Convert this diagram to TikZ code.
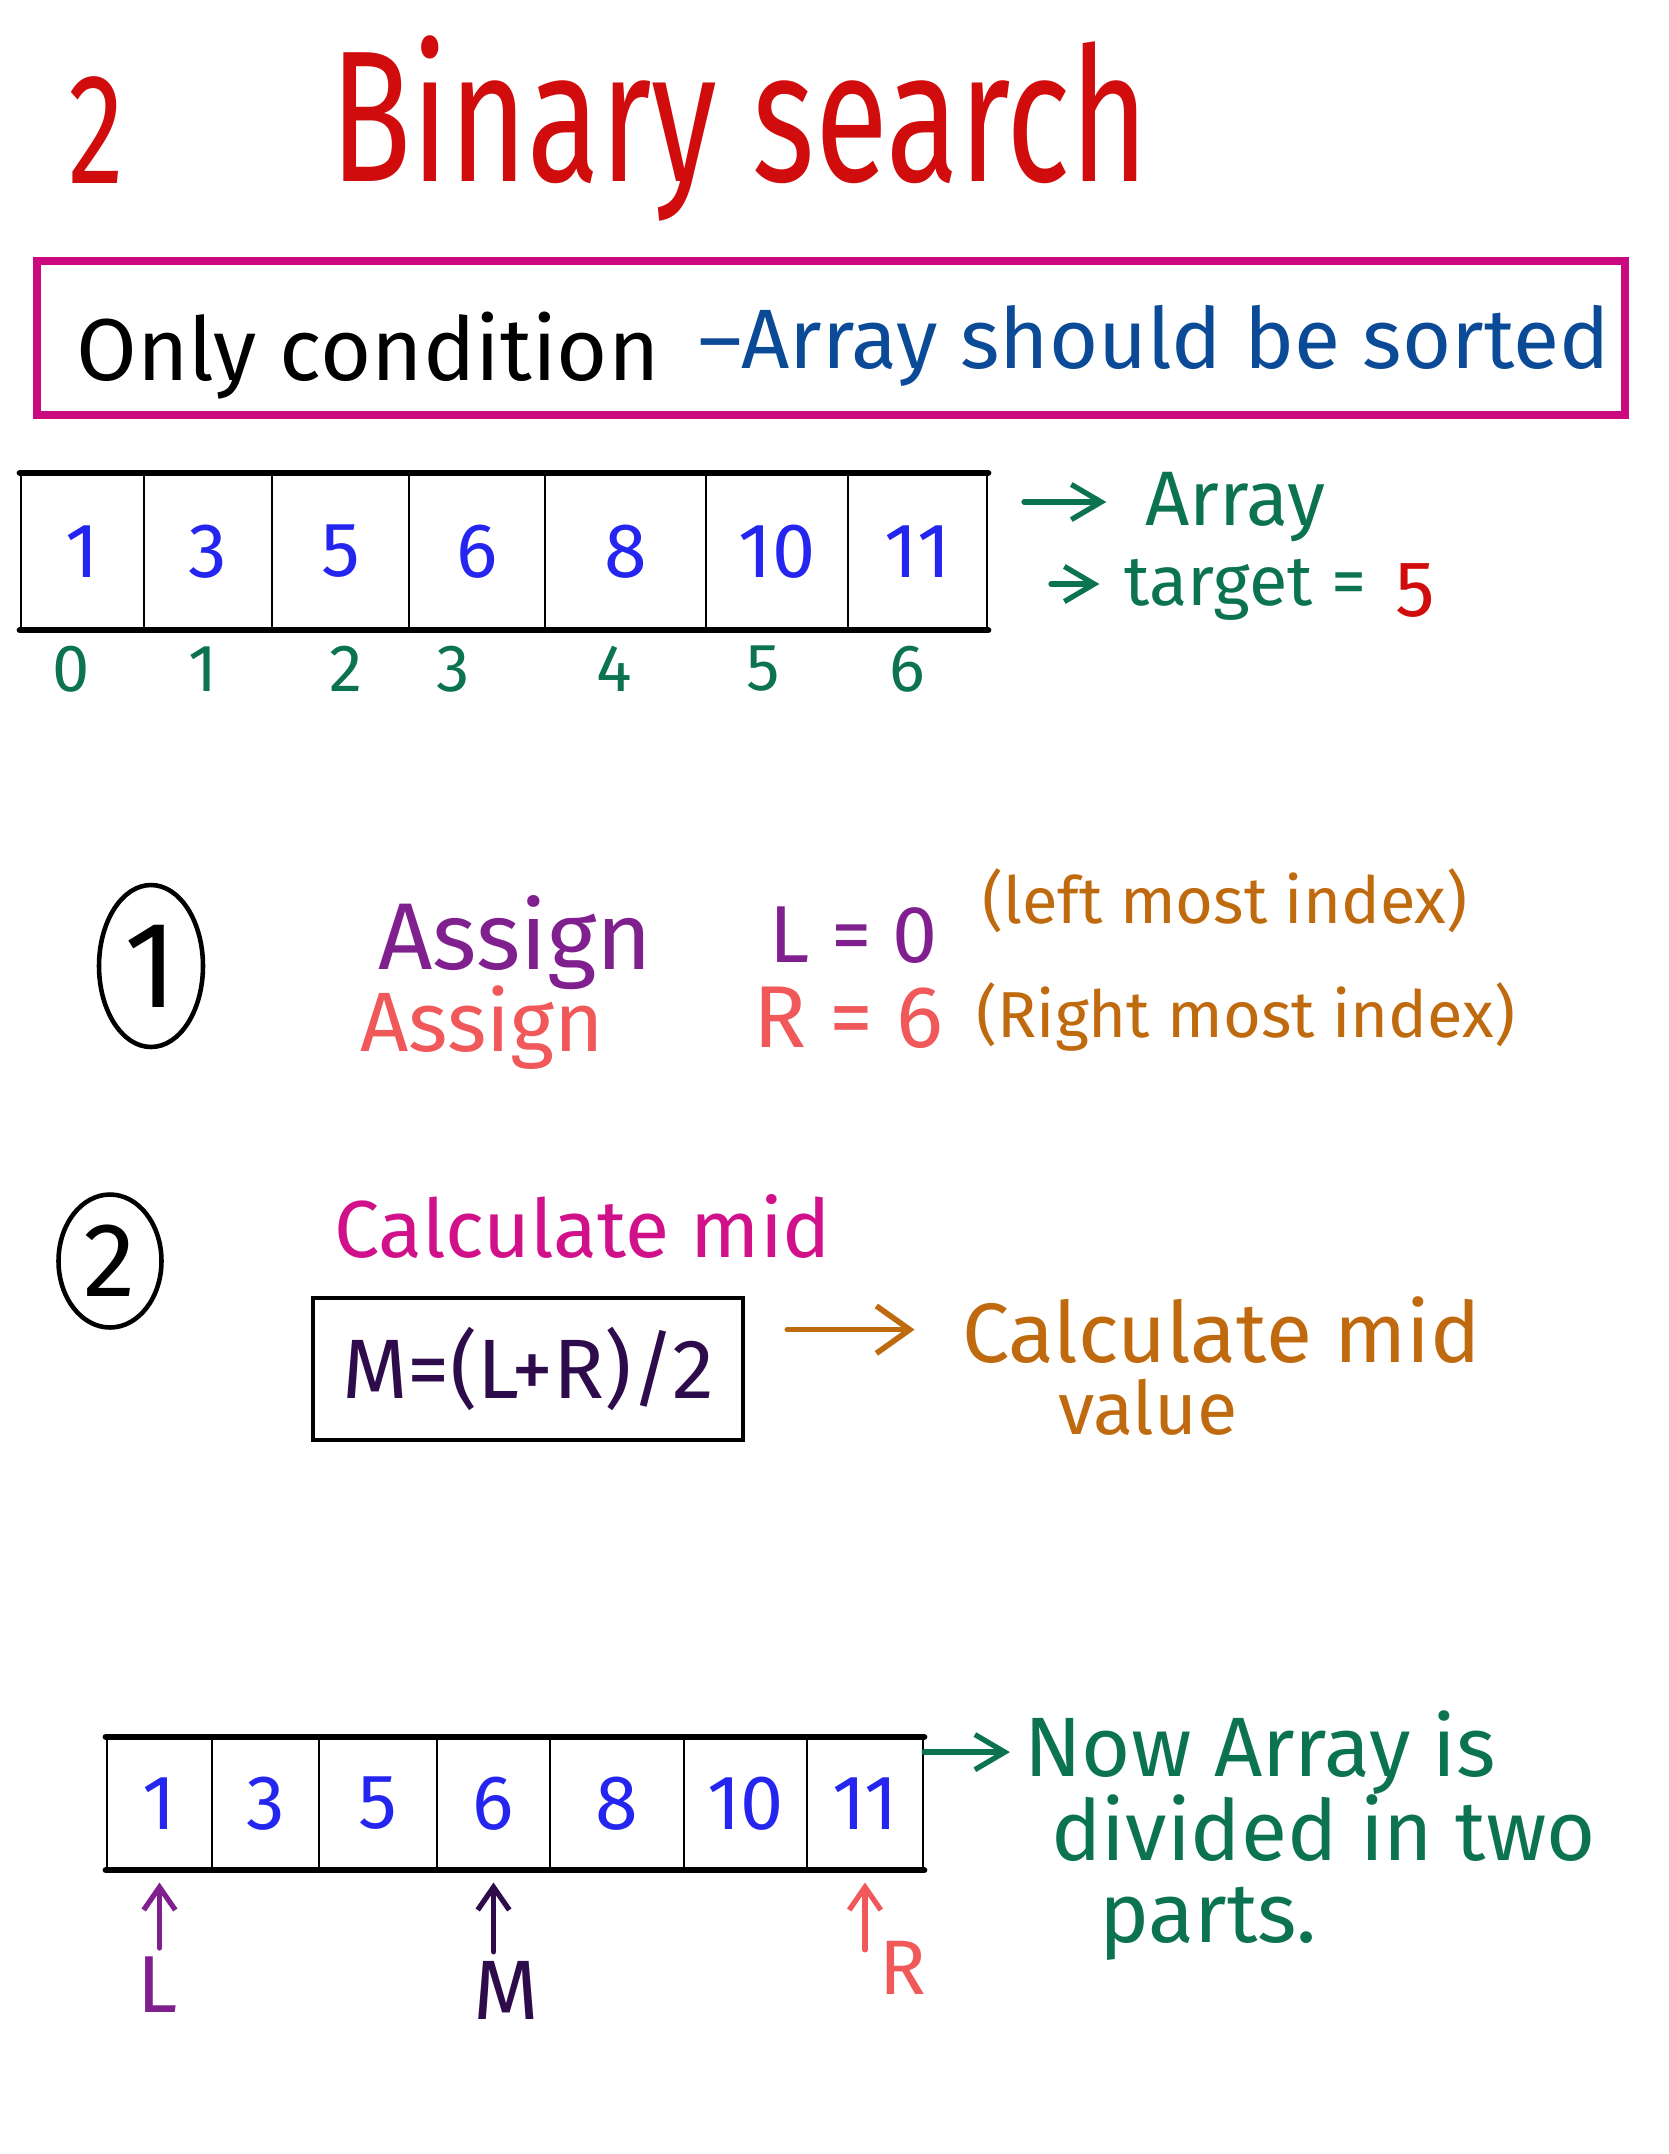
\documentclass[tikz,border=0pt]{standalone}
\usepackage{fontspec}
\setmainfont{Fira Sans}
\usetikzlibrary{arrows.meta,shapes.geometric,positioning}
\definecolor{titlecolor}{HTML}{D10C0C}
\definecolor{framecolor}{HTML}{CC0A80}
\definecolor{sortcolor}{HTML}{0B4A96}
\definecolor{valuecolor}{HTML}{2525F0}
\definecolor{notecolor}{HTML}{0B7352}
\definecolor{leftcolor}{HTML}{80208F}
\definecolor{rightcolor}{HTML}{F0585A}
\definecolor{hintcolor}{HTML}{C06A10}
\definecolor{stepcolor}{HTML}{D1118A}
\definecolor{midcolor}{HTML}{2E0B4A}
\newcommand{\fsz}[1]{\fontsize{#1}{#1}\selectfont}
\tikzset{
  bs word/.style={inner sep=0pt,anchor=base west},
  bs title/.style={bs word,text=titlecolor,yscale=1.4},
  bs frame/.style={draw=framecolor,line width=4.5pt,minimum width=31.76cm,minimum height=3.08cm},
  bs cell/.style={draw,line width=1.4pt,inner sep=0pt,text=valuecolor,font=\fsz{44}},
  bs rim/.style={line width=3.6pt,line cap=round},
  bs index/.style={inner sep=0pt,text=notecolor,font=\fsz{38}},
  bs note/.style={bs word,text=notecolor},
  bs note arrow/.style={notecolor,line width=3pt,line cap=round,-{Straight Barb[length=17pt,width=20pt]}},
  bs mid arrow/.style={hintcolor,line width=3.2pt,line cap=round,-{Straight Barb[length=19pt,width=27pt]}},
  bs stepmark/.style={ellipse,draw,line width=2.6pt,inner sep=0pt},
  bs hint/.style={bs word,text=hintcolor,font=\fsz{37}},
  bs pointer/.style={line width=3pt,line cap=round,-{Straight Barb[length=13pt,width=18pt]}}
}
\begin{document}
\begin{tikzpicture}[x=0.02cm,y=-0.02cm]
  \useasboundingbox (0,0) rectangle (1668,2154);
  % heading
  \node[bs title,font=\fsz{64}] (num) at (68,183) {2};
  \node[bs title,font=\fsz{76}] (title) at (330,181) {Binary search};
  \node[bs frame] (cond) at (831,338) {};
  \node[bs word,font=\fsz{50}] (only) at (76,380) {Only condition};
  \node[bs word,text=sortcolor,font=\fsz{48}] (sorted) at (698,368) {–Array should be sorted};
  % first array
  \foreach \i/\xl/\xr/\v/\ix in {0/21/144/1/71,1/144/272/3/203,2/272/409/5/346,3/409/545/6/453,4/545/706/8/614,5/706/848/10/763,6/848/987/11/907}{
    \node[bs cell,minimum width={(\xr-\xl)*0.02cm},minimum height=3.1cm] (a\i) at ({(\xl+\xr)/2},551.5) {\v};
    \node[bs index] (ai\i) at (\ix,669) {\i};
  }
  \draw[bs rim] (a0.north west) -- (a6.north east);
  \draw[bs rim] (a0.south west) -- (a6.south east);
  \coordinate (arr1) at (1024,502);
  \coordinate (arr2) at (1051,584);
  \node[bs note,font=\fsz{44}] (arraynote) at (1145,525) {Array};
  \node[bs note,font=\fsz{40}] (target) at (1124,605) {target =};
  \node[bs word,text=titlecolor,font=\fsz{45}] (five) at (1395,616) {5};
  \draw[bs note arrow,shorten >=22pt] (arr1) -- (arr1 -| arraynote.west);
  \draw[bs note arrow,shorten >=14pt] (arr2) -- (arr2 -| target.west);
  % step 1
  \node[bs stepmark,minimum width=2.08cm,minimum height=3.24cm,font=\fsz{70}] (s1) at (151,966) {1};
  \node[bs word,text=leftcolor,font=\fsz{54}] (assignl) at (378,969) {Assign};
  \node[bs word,text=leftcolor,font=\fsz{46}] (lval) at (769,962) {L = 0};
  \node[bs hint] (lhint) at (982,923) {(left most index)};
  \node[bs word,text=rightcolor,font=\fsz{48}] (assignr) at (360,1051) {Assign};
  \node[bs word,text=rightcolor,font=\fsz{50}] (rval) at (753,1047) {R = 6};
  \node[bs hint] (rhint) at (976,1037) {(Right most index)};
  % step 2
  \node[bs stepmark,minimum width=2.06cm,minimum height=2.66cm,font=\fsz{60}] (s2) at (110,1261) {2};
  \node[bs word,text=stepcolor,font=\fsz{46}] (calc) at (334,1257) {Calculate mid};
  \node[draw,line width=2.4pt,minimum width=8.6cm,minimum height=2.84cm,text=midcolor,font=\fsz{48}] (mbox) at (528,1369) {M=(L+R)/2};
  \node[bs word,text=hintcolor,font=\fsz{48}] (midnote) at (962,1362) {Calculate mid};
  \node[bs word,text=hintcolor,font=\fsz{42}] (midvalue) at (1058,1434) {value};
  \draw[bs mid arrow,shorten <=24pt,shorten >=27pt] (midnote.west -| mbox.east) -- (midnote.west);
  % second array
  \foreach \i/\xl/\xr/\v in {0/107/212/1,1/212/319/3,2/319/437/5,3/437/550/6,4/550/684/8,5/684/807/10,6/807/923/11}{
    \node[bs cell,minimum width={(\xr-\xl)*0.02cm},minimum height=2.62cm] (b\i) at ({(\xl+\xr)/2},1803.5) {\v};
  }
  \draw[bs rim] (b0.north west) -- (b6.north east);
  \draw[bs rim] (b0.south west) -- (b6.south east);
  \node[bs note,font=\fsz{48}] (now) at (1024,1776) {Now Array is};
  \node[bs note,font=\fsz{48}] (divided) at (1051,1860) {divided in two};
  \node[bs note,font=\fsz{48}] (parts) at (1099,1942) {parts.};
  \draw[bs note arrow,shorten >=8pt] (b6.east |- now.west) -- (now.west);
  \node[inner sep=0pt,text=leftcolor,font=\fsz{46}] (lptr) at (158,1985) {L};
  \node[inner sep=0pt,text=midcolor,font=\fsz{48}] (mptr) at (506,1990) {M};
  \node[inner sep=0pt,text=rightcolor,font=\fsz{44}] (rptr) at (903,1968) {R};
  \draw[bs pointer,leftcolor,shorten <=5pt,shorten >=7pt] (b0.south |- lptr.north) -- (b0.south);
  \draw[bs pointer,midcolor,shorten <=5pt,shorten >=7pt] (b3.south |- mptr.north) -- (b3.south);
  \draw[bs pointer,rightcolor,shorten <=-5pt,shorten >=7pt] (b6.south |- rptr.north) -- (b6.south);
\end{tikzpicture}
\end{document}
